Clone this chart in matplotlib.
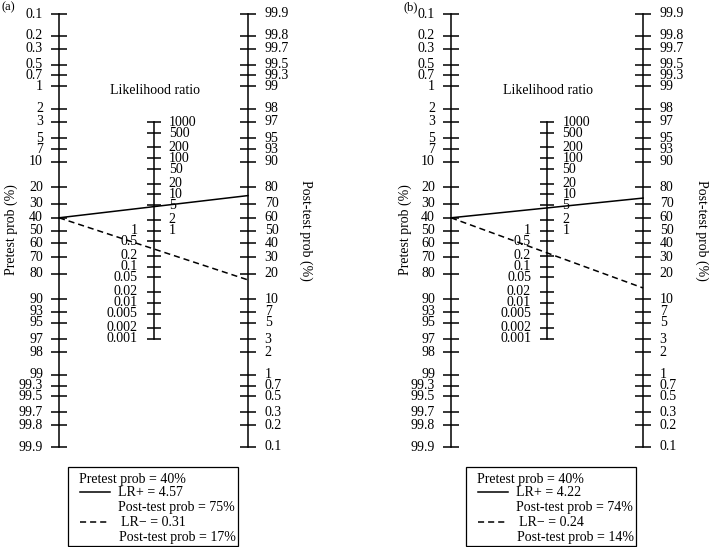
import numpy as np
import matplotlib
matplotlib.use('Agg')
import matplotlib.pyplot as plt
from matplotlib.patches import Rectangle

plt.rcParams['font.family'] = ['Liberation Serif', 'DejaVu Serif']

# ---- data ----
prob_ticks = [0.1, 0.2, 0.3, 0.5, 0.7, 1, 2, 3, 5, 7, 10, 20, 30, 40, 50,
              60, 70, 80, 90, 93, 95, 97, 98, 99, 99.3, 99.5, 99.7, 99.8, 99.9]
lr_ticks_right = [1000, 500, 200, 100, 50, 20, 10, 5, 2, 1]
lr_ticks_left = [1, 0.5, 0.2, 0.1, 0.05, 0.02, 0.01, 0.005, 0.002, 0.001]
panel_names = ['(a)', '(b)']
pretest = [40, 40]
lr_pos = [4.57, 4.22]
lr_neg = [0.31, 0.24]
post_pos_label = [75, 74]
post_neg_label = [17, 14]

# ---- layout (pixels) ----
W, H = 709, 547
panel_left_px = [59, 451]
panel_right_px = [248, 643]
box_left_px = [68, 466]
ylab_left_px = [11, 405]
ylab_right_px = [306, 702]
letter_px = [(1, 7), (403, 7)]

fig = plt.figure(figsize=(W / 100, H / 100), dpi=100)
over = fig.add_axes([0, 0, 1, 1])
over.set_xlim(0, W)
over.set_ylim(H, 0)
over.set_axis_off()

FS = 10
LW = 1.1


def lr_y(lr):
    lr = np.asarray(lr, dtype=float)
    return 1.0 / (1.0 + np.sqrt(lr))


def post_prob(pre, lr):
    odds = pre / (100 - pre) * lr
    return odds / (1 + odds)


for i in range(2):
    x0, x2 = panel_left_px[i], panel_right_px[i]
    ax = fig.add_axes([x0 / W, 100 / H, (x2 - x0) / W, 433 / H])
    ax.set_yscale('logit')
    ax.set_ylim(0.999, 0.001)
    ax.set_xlim(0, 2)
    ax.set_axis_off()

    p = np.array(prob_ticks) / 100
    # left axis (pretest)
    ax.plot([0, 0], [0.001, 0.999], color='k', lw=LW, clip_on=False)
    ax.plot(np.zeros(len(p)), p, ls='none', marker='_', ms=11, mew=LW,
            color='k', clip_on=False)
    for v in prob_ticks:
        ax.annotate(f'{v:g}', (0, v / 100), xytext=(-11.5, 0),
                    textcoords='offset points', ha='right', va='center',
                    fontsize=FS)
    # right axis (post-test)
    ax.plot([2, 2], [0.001, 0.999], color='k', lw=LW, clip_on=False)
    ax.plot(np.full(len(p), 2), 1 - p, ls='none', marker='_', ms=11, mew=LW,
            color='k', clip_on=False)
    for v in prob_ticks:
        ax.annotate(f'{v:g}', (2, 1 - v / 100), xytext=(12, 0),
                    textcoords='offset points', ha='left', va='center',
                    fontsize=FS)
    # LR axis
    lr_all = sorted(set(lr_ticks_right) | set(lr_ticks_left))
    ax.plot([1, 1], [lr_y(max(lr_all)), lr_y(min(lr_all))], color='k', lw=LW,
            clip_on=False)
    ax.plot(np.ones(len(lr_all)), lr_y(lr_all), ls='none', marker='_', ms=10,
            mew=LW, color='k', clip_on=False)
    for v in lr_ticks_right:
        ax.annotate(f'{v:g}', (1, lr_y(v)), xytext=(11, 0),
                    textcoords='offset points', ha='left', va='center',
                    fontsize=FS)
    for v in lr_ticks_left:
        ax.annotate(f'{v:g}', (1, lr_y(v)), xytext=(-11.5, 0),
                    textcoords='offset points', ha='right', va='center',
                    fontsize=FS)

    # connecting lines
    pre = pretest[i]
    qp = post_prob(pre, lr_pos[i])
    qn = post_prob(pre, lr_neg[i])
    ax.plot([0, 1, 2], [pre / 100, lr_y(lr_pos[i]), 1 - qp], color='k',
            lw=LW, clip_on=False)
    ax.plot([0, 1, 2], [pre / 100, lr_y(lr_neg[i]), 1 - qn], color='k',
            lw=LW, ls=(0, (4, 2.6)), clip_on=False)

    # texts
    xc = (x0 + x2) / 2
    over.text(xc + 1, 91, 'Likelihood ratio', ha='center', va='center',
              fontsize=FS)
    over.text(ylab_left_px[i], 230, 'Pretest prob (%)', rotation=90,
              ha='center', va='center', fontsize=FS)
    over.text(ylab_right_px[i], 230, 'Post-test prob (%)', rotation=270,
              ha='center', va='center', fontsize=FS)
    over.text(letter_px[i][0], letter_px[i][1], panel_names[i], ha='left',
              va='center', fontsize=9)

    # legend box
    bl = box_left_px[i]
    over.add_patch(Rectangle((bl, 467), 170, 79, fill=False, ec='k', lw=0.9))
    over.text(bl + 11, 479, f'Pretest prob = {pre}%', ha='left', va='center',
              fontsize=FS)
    over.plot([bl + 12, bl + 42], [492, 492], color='k', lw=LW)
    over.text(bl + 50, 492, f'LR+ = {lr_pos[i]:.2f}', ha='left', va='center',
              fontsize=FS)
    over.text(bl + 50, 508, f'Post-test prob = {post_pos_label[i]}%',
              ha='left', va='center', fontsize=FS)
    over.plot([bl + 12, bl + 42], [522, 522], color='k', lw=LW,
              ls=(0, (4, 2.6)))
    over.text(bl + 53, 522, f'LR\u2212 = {lr_neg[i]:.2f}', ha='left',
              va='center', fontsize=FS)
    over.text(bl + 51, 537, f'Post-test prob = {post_neg_label[i]}%',
              ha='left', va='center', fontsize=FS)

fig.savefig('out.png', dpi=100)
